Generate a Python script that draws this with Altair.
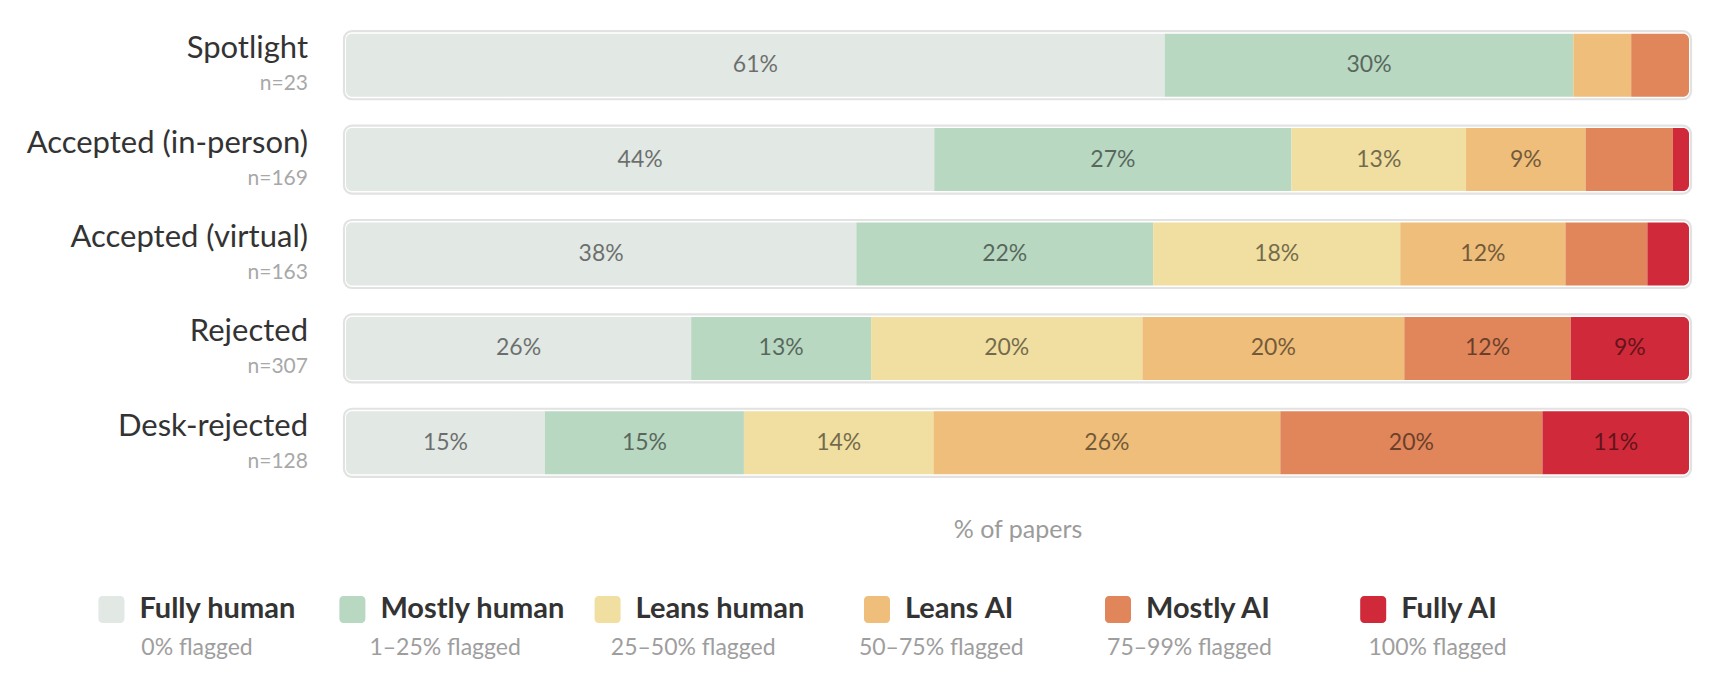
import altair as alt
import pandas as pd

# ---------------- data ----------------
groups = ["Spotlight", "Accepted (in-person)", "Accepted (virtual)", "Rejected", "Desk-rejected"]
group_n = [23, 169, 163, 307, 128]
categories = ["Fully human", "Mostly human", "Leans human", "Leans AI", "Mostly AI", "Fully AI"]
category_ranges = ["0% flagged", "1–25% flagged", "25–50% flagged", "50–75% flagged", "75–99% flagged", "100% flagged"]
colors = ["#e2e8e4", "#b9d8c2", "#f1dfa1", "#efbe7a", "#e0865a", "#d02a3a"]

pct_spotlight = [60.9, 30.4, 0.0, 4.3, 4.3, 0.0]
pct_accepted_in_person = [43.8, 26.6, 13.0, 8.9, 6.5, 1.2]
pct_accepted_virtual = [38.0, 22.1, 18.4, 12.3, 6.1, 3.1]
pct_rejected = [25.7, 13.4, 20.2, 19.5, 12.4, 8.8]
pct_desk_rejected = [14.8, 14.8, 14.1, 25.8, 19.5, 10.9]

series = [pct_spotlight, pct_accepted_in_person, pct_accepted_virtual, pct_rejected, pct_desk_rejected]

FONT = "Lato"

# ---------------- tables ----------------
rows = []
for g, n, vals in zip(groups, group_n, series):
    total = sum(vals)
    nz = [i for i, v in enumerate(vals) if v > 0]
    cum = 0.0
    for i, (c, v) in enumerate(zip(categories, vals)):
        p = v / total * 100
        rows.append({
            "group": g, "n": f"n={n}", "category": c, "order": i, "pct": p,
            "start": cum, "end": cum + p, "mid": cum + p / 2,
            "label": f"{round(p):.0f}%",
            "is_first": i == nz[0], "is_last": i == nz[-1],
        })
        cum += p
seg = pd.DataFrame(rows)
seg = seg[seg["pct"] > 0]
grp = pd.DataFrame({"group": groups, "n": [f"n={n}" for n in group_n]})
leg = pd.DataFrame({"idx": list(range(len(categories))), "category": categories, "sub": category_ranges})

# ---------------- layout ----------------
W, H = 1343, 472
PAD = {"left": 346, "top": 18, "right": 37, "bottom": 196}

color_scale = alt.Scale(domain=categories, range=colors)
yenc = alt.Y("group:N", sort=groups, scale=alt.Scale(paddingInner=0.279, paddingOuter=0.14), axis=None)
xscale = alt.Scale(domain=[0, 100], nice=False, zero=False)

track = alt.Chart(grp).mark_bar(
    cornerRadius=8, fill="#ffffff", stroke="#e2e2e2", strokeWidth=2.2
).encode(
    x=alt.X(datum=-0.15, scale=xscale,
            axis=alt.Axis(title="% of papers", labels=False, ticks=False, domain=False, grid=False,
                          titleFontSize=25, titleColor="#9b9b9b", titleFont=FONT,
                          titleFontWeight="normal", titlePadding=27)),
    x2=alt.X2(datum=100.15),
    y=yenc,
)

segments = alt.Chart(seg).mark_bar(
    size=63,
    cornerRadiusTopLeft={"expr": "datum.is_first ? 6 : 0"},
    cornerRadiusBottomLeft={"expr": "datum.is_first ? 6 : 0"},
    cornerRadiusTopRight={"expr": "datum.is_last ? 6 : 0"},
    cornerRadiusBottomRight={"expr": "datum.is_last ? 6 : 0"},
).encode(
    x=alt.X("start:Q", scale=xscale),
    x2="end:Q",
    y=yenc,
    color=alt.Color("category:N", scale=color_scale, legend=None),
)

seg_labels = alt.Chart(seg).transform_filter("datum.pct >= 7.5").mark_text(
    font=FONT, fontSize=23, color="#000000", opacity=0.52, baseline="middle", align="center"
).encode(
    x=alt.X("mid:Q", scale=xscale),
    y=yenc,
    text="label:N",
)

names = alt.Chart(grp).mark_text(
    font=FONT, fontSize=31, color="#333333", align="right", baseline="alphabetic", dy=-7
).encode(x=alt.value(-38), y=yenc, text="group:N")

ns = alt.Chart(grp).mark_text(
    font=FONT, fontSize=21, color="#a8a8a8", align="right", baseline="alphabetic", dy=25
).encode(x=alt.value(-38), y=yenc, text="n:N")

main = alt.layer(track, segments, seg_labels, names, ns)

# legend built from the category arrays (items centred on an even grid)
lscale = alt.Scale(domain=[PAD["left"], PAD["left"] + W], nice=False, zero=False)
legbase = alt.Chart(leg).transform_calculate(
    center="197 + datum.idx * 248.1",
    start="datum.center - (41 + 14.2 * length(datum.category)) / 2",
    sx2="datum.start + 26",
    lx="datum.start + 41",
)
swatch = legbase.mark_rect(cornerRadius=4).encode(
    x=alt.X("start:Q", scale=lscale, axis=None),
    x2="sx2:Q",
    y=alt.value(578), y2=alt.value(605),
    color=alt.Color("category:N", scale=color_scale, legend=None),
)
leg_label = legbase.mark_text(
    font=FONT, fontSize=29, fontWeight="bold", color="#333333", align="left", baseline="middle"
).encode(x=alt.X("lx:Q", scale=lscale, axis=None), y=alt.value(591), text="category:N")
leg_sub = legbase.mark_text(
    font=FONT, fontSize=23, color="#9e9e9e", align="center", baseline="middle"
).encode(x=alt.X("center:Q", scale=lscale, axis=None), y=alt.value(630), text="sub:N")

legend = alt.layer(swatch, leg_label, leg_sub)

chart = alt.layer(main, legend).resolve_scale(x="independent").properties(
    width=W, height=H, padding=PAD, autosize=alt.AutoSizeParams(type="none"),
    background="#ffffff",
).configure_view(stroke=None)

chart.save("out.html", embed_options={"renderer": "svg", "actions": False})
